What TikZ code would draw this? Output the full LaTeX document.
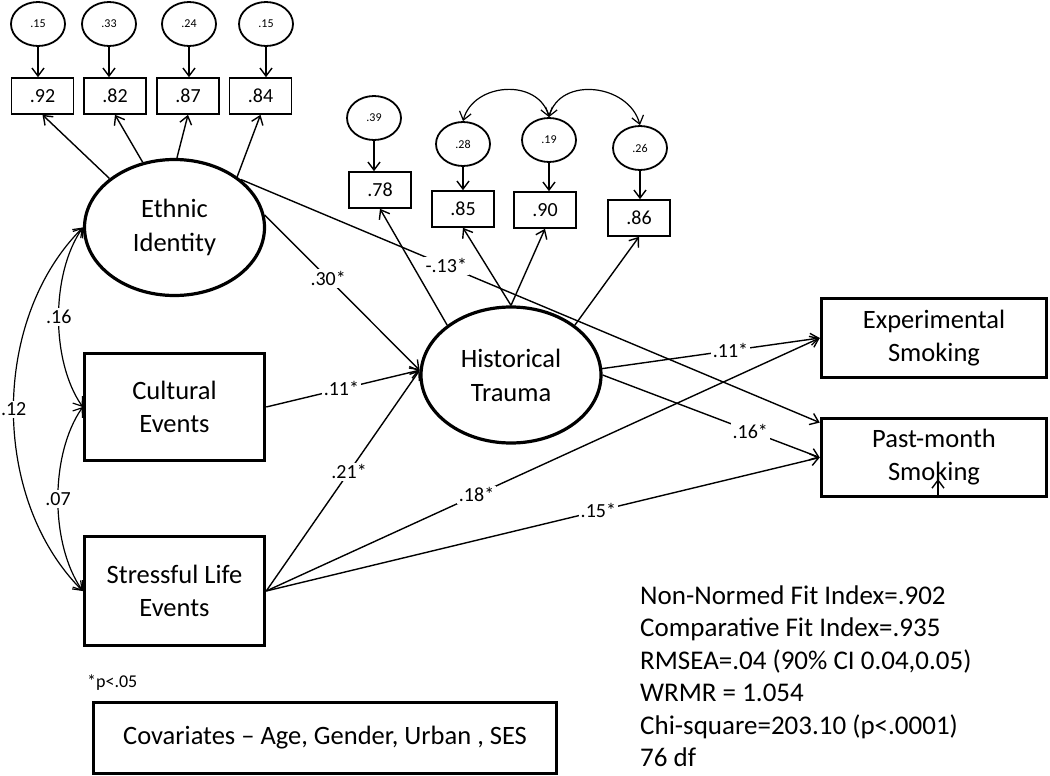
\documentclass[tikz,border=0pt]{standalone}
\usepackage{fontspec}
\setmainfont{Carlito}
\usetikzlibrary{arrows.meta,shapes.geometric}
\begin{document}
\begin{tikzpicture}[x=1pt,y=-1pt,
  >={Straight Barb[length=8pt,width=12pt]},
  conn/.style={->, line width=1.4pt},
  cov/.style={<->, line width=1.2pt},
  latent/.style={ellipse, draw, line width=3.2pt, fill=white, minimum width=180pt, minimum height=136pt, inner sep=0pt, align=center, font=\fontsize{26.5}{34}\selectfont},
  obs/.style={rectangle, draw, line width=3.5pt, fill=white, inner sep=0pt, align=center, font=\fontsize{26.5}{33}\selectfont},
  errell/.style={ellipse, draw, line width=1.8pt, fill=white, minimum width=54pt, minimum height=44pt, inner sep=0pt, font=\fontsize{12}{14}\selectfont},
  ind/.style={rectangle, draw, line width=1.6pt, fill=white, minimum width=62pt, minimum height=36pt, inner sep=0pt, font=\fontsize{20}{23}\selectfont},
  lab/.style={fill=white, inner sep=2pt, font=\fontsize{20}{23}\selectfont},
  stat/.style={anchor=base west, inner sep=0pt, font=\fontsize{27}{32}\selectfont},
]
\useasboundingbox (0,0) rectangle (1050,776);

% latent variables
\node[latent] (EI) at (174.5,227.5) {Ethnic\\Identity};
\node[latent] (HT) at (511,375) {Historical\\Trauma};

% observed boxes
\node[obs, minimum width=180pt, minimum height=107pt] (CE) at (174.5,407) {Cultural\\Events};
\node[obs, minimum width=180pt, minimum height=109pt] (SLE) at (174.5,591) {Stressful Life\\Events};
\node[obs, minimum width=225pt, minimum height=79pt] (EXP) at (934,338) {Experimental\\Smoking};
\node[obs, minimum width=225pt, minimum height=78pt] (PM) at (934,457.5) {Past-month\\Smoking};
\node[obs, minimum width=463pt, minimum height=71pt] (COV) at (325,738) {Covariates -- Age, Gender, Urban , SES};

% Ethnic identity indicators
\node[errell] (e1) at (38,24) {.15};
\node[errell] (e2) at (109,24) {.33};
\node[errell] (e3) at (189,24) {.24};
\node[errell] (e4) at (266,24) {.15};
\node[ind] (b1) at (42.5,96) {.92};
\node[ind] (b2) at (115,96) {.82};
\node[ind] (b3) at (188,96) {.87};
\node[ind] (b4) at (260.5,96) {.84};
\foreach \i in {1,...,4} {\draw[conn] (e\i) -- (e\i |- b\i.north);}
\draw[conn] (EI.143) -- (b1.south);
\draw[conn] (EI.116) -- (b2.south);
\draw[conn] (EI.88) -- (b3.south);
\draw[conn] (EI.39) -- (b4.south);

% Historical trauma indicators
\node[errell] (f1) at (374,118) {.39};
\node[errell] (f2) at (463,144) {.28};
\node[errell] (f3) at (549,140) {.19};
\node[errell] (f4) at (640,148) {.26};
\node[ind] (g1) at (380,190) {.78};
\node[ind] (g2) at (463,209) {.85};
\node[ind] (g3) at (545,210) {.90};
\node[ind] (g4) at (639,218) {.86};
\foreach \i in {1,...,4} {\draw[conn] (f\i) -- (f\i |- g\i.north);}
\draw[conn] (HT.142) -- (g1.south);
\draw[conn] (HT.north) -- (g2.south);
\draw[conn] (HT.north) -- (g3.south);
\draw[conn] (HT.38) -- (g4.south);
\draw[cov] (f2.north) to[out=75,in=105,looseness=1.2] (f3.north);
\draw[cov] (f3.north) to[out=75,in=105,looseness=1.2] (f4.north);

% covariances on the left
\draw[cov] (EI.west) to[out=235,in=125,looseness=0.8] node[lab]{.16} (CE.west);
\draw[cov] (CE.west) to[out=235,in=125,looseness=0.8] node[lab]{.07} (SLE.west);
\draw[cov] (EI.west) to[out=225,in=135,looseness=0.92] node[lab]{.12} (SLE.west);

% structural paths
\draw[conn] (EI.8) -- node[lab,pos=0.41]{.30*} (HT.177);
\draw[conn] (EI.36) -- node[lab,pos=0.355]{-.13*} (PM.163);
\draw[conn] (CE.east) -- node[lab,pos=0.49]{.11*} (HT.177);
\draw[conn] (SLE.east) -- node[lab,pos=0.54]{.21*} (HT.177);
\draw[conn] (SLE.east) -- node[lab,pos=0.38]{.18*} (EXP.west);
\draw[conn] (SLE.east) -- node[lab,pos=0.6]{.15*} (PM.west);
\draw[conn] (HT.4) -- node[lab,pos=0.59]{.11*} (EXP.west);
\draw[conn] (HT.0) -- node[lab,pos=0.68]{.16*} (PM.west);

% small arrow inside the past-month box
\coordinate (pmtip) at (938,479);
\draw[conn] (PM.south -| pmtip) -- (pmtip);

% notes
\node[anchor=west, inner sep=0pt, font=\fontsize{18}{21}\selectfont] (pnote) at (87,683) {*p<.05};
\node[stat] (s1) at (640,604) {Non-Normed Fit Index=.902};
\node[stat] (s2) at (640,636.5) {Comparative Fit Index=.935};
\node[stat] (s3) at (640,669) {RMSEA=.04 (90\% CI 0.04,0.05)};
\node[stat] (s4) at (640,701.5) {WRMR = 1.054};
\node[stat] (s5) at (640,734) {Chi-square=203.10 (p<.0001)};
\node[stat] (s6) at (640,766.5) {76 df};
\end{tikzpicture}
\end{document}
